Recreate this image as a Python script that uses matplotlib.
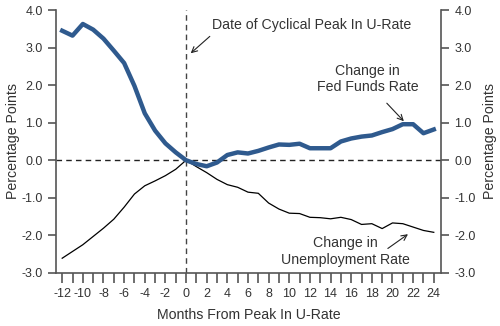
import numpy as np
import matplotlib.pyplot as plt
from matplotlib.ticker import FixedLocator, FuncFormatter

plt.rcParams['font.family'] = ['Liberation Sans', 'DejaVu Sans']
plt.rcParams['axes.unicode_minus'] = False

months = list(range(-12, 25))
fed_funds = [3.45, 3.32, 3.63, 3.48, 3.24, 2.92, 2.59, 1.98, 1.25, 0.79, 0.45, 0.21,
             0.0, -0.10, -0.16, -0.06, 0.14, 0.21, 0.18, 0.25, 0.34, 0.42, 0.41, 0.44,
             0.32, 0.32, 0.32, 0.50, 0.58, 0.63, 0.66, 0.75, 0.83, 0.96, 0.96, 0.72, 0.82]
unemp = [-2.61, -2.43, -2.25, -2.03, -1.81, -1.57, -1.25, -0.90, -0.68, -0.55, -0.41, -0.24,
         0.0, -0.17, -0.33, -0.51, -0.65, -0.72, -0.85, -0.88, -1.14, -1.30, -1.41, -1.42,
         -1.52, -1.53, -1.56, -1.52, -1.58, -1.71, -1.69, -1.82, -1.67, -1.69, -1.78, -1.87, -1.92]

txt = '#333333'
spine = '#555555'
fs_tick = 9.0
fs_text = 10.2

fig = plt.figure(figsize=(5, 3.26), dpi=100)
ax = fig.add_axes([0.112, 0.163, 0.77, 0.806])

ax.axvline(0, color='#444444', lw=1, ls=(0, (4, 3)))
ax.axhline(0, color='#222222', lw=1, ls=(0, (4, 3)))
ax.plot(months, unemp, color='black', lw=0.9)
ax.plot(months, fed_funds, color='#2f5a8e', lw=3.2, solid_joinstyle='round')

ax.set_xlim(-12.6, 24.7)
ax.set_ylim(-3.0, 4.0)

ax.spines['top'].set_visible(False)
for s in ['left', 'right', 'bottom']:
    ax.spines[s].set_color(spine)
    ax.spines[s].set_linewidth(1.2)

ax.xaxis.set_major_locator(FixedLocator(list(range(-12, 25, 2))))
ax.xaxis.set_minor_locator(FixedLocator(list(range(-11, 25, 2))))
ax.tick_params(axis='x', which='both', direction='out', length=7, width=1.2,
               color=spine, labelsize=fs_tick, labelcolor=txt, pad=4)
ax.set_yticks(np.arange(-3, 5, 1))
ax.yaxis.set_major_formatter(FuncFormatter(lambda v, p: '%.1f' % v))
ax.tick_params(axis='y', direction='out', length=6, width=1.2, color=spine,
               labelsize=fs_tick, labelcolor=txt, right=True, labelright=True)

ax.set_xlabel('Months From Peak In U-Rate', fontsize=fs_text, color=txt, labelpad=6)
ax.set_ylabel('Percentage Points', fontsize=fs_text, color=txt, labelpad=1)
ax2 = ax.secondary_yaxis('right')
ax2.set_yticks([])
ax2.spines['right'].set_visible(False)
ax2.set_ylabel('Percentage Points', fontsize=fs_text, color=txt, labelpad=30)

arrow = dict(arrowstyle='->', color='#222222', lw=0.8, shrinkA=0, shrinkB=0)
ax.text(2.5, 3.6, 'Date of Cyclical Peak In U-Rate', fontsize=fs_text, color=txt,
        ha='left', va='center')
ax.annotate('', xy=(0.45, 2.85), xytext=(2.3, 3.3), arrowprops=arrow)
ax.text(17.6, 2.17, 'Change in\nFed Funds Rate', fontsize=fs_text, color=txt,
        ha='center', va='center', linespacing=1.2)
ax.annotate('', xy=(21.1, 1.04), xytext=(19.45, 1.52), arrowprops=arrow)
ax.text(15.4, -2.43, 'Change in\nUnemployment Rate', fontsize=fs_text, color=txt,
        ha='center', va='center', linespacing=1.2)
ax.annotate('', xy=(21.5, -1.97), xytext=(19.55, -2.35), arrowprops=arrow)

fig.savefig('out.png', dpi=100)
